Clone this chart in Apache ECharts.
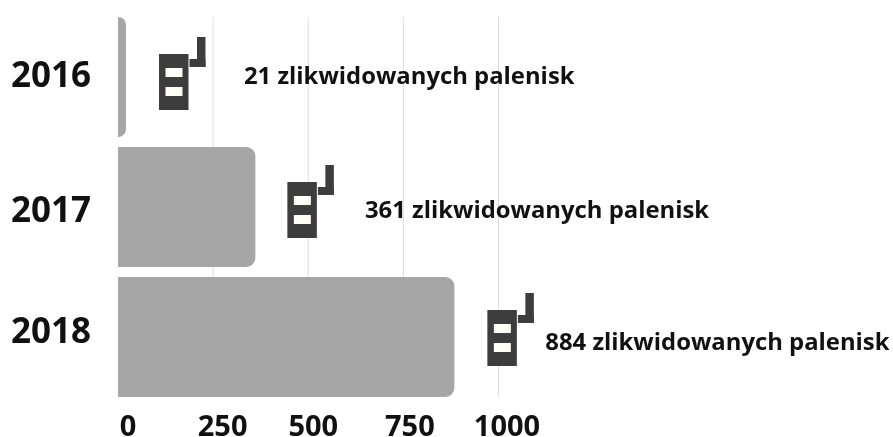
<!DOCTYPE html>
<html><head><meta charset="utf-8">
<style>html,body{margin:0;padding:0;background:#fff}#c{width:893px;height:437px}</style>
<script src="https://cdn.jsdelivr.net/npm/echarts@6/dist/echarts.min.js"></script>
</head><body><div id="c"></div>
<script>
const years = ['2016','2017','2018'];
const removed = [21,361,884];
const labelSuffix = ' zlikwidowanych palenisk';
const ticks = [0,250,500,750,1000];
// label start for each row, in axis units
const labelAnchor = [331,649,1123];

const FONT = '"Open Sans","Noto Sans",sans-serif';
const INK = '#111111', ICON = '#3d3d3d', BAR = '#a6a6a6';
const yearPad = [[0,0,0,0],[10,0,0,0],[0,0,8,0]];   // nudges of year labels
const tickPad = [20,19,10,13,17];                   // left padding of tick labels
const iconShift = [2,0,-2];      // px, vertical nudge of icons
const textShift = [0,4,6];       // px, vertical nudge of row labels

const yearRich = {}, tickRich = {};
const yf = {fontFamily:FONT, fontWeight:700, fontSize:35, color:INK};
const tf = {fontFamily:FONT, fontWeight:700, fontSize:29, color:INK};
yearPad.forEach((p,i)=>{ yearRich['y'+i] = Object.assign({padding:p}, yf); });
tickPad.forEach((p,i)=>{ tickRich['t'+i] = Object.assign({padding:[0,0,0,p]}, tf); });

const chart = echarts.init(document.getElementById('c'), null, {renderer:'canvas'});
chart.setOption({
  animation:false,
  grid:{left:118, width:380.5, top:12, height:390, containLabel:false, outerBoundsMode:'none'},
  xAxis:{type:'value', min:0, max:1000, interval:250,
    axisLine:{show:false}, axisTick:{show:false}, splitLine:{show:false},
    axisLabel:{margin:11, align:'center', hideOverlap:false, showMinLabel:true, showMaxLabel:true,
      formatter:v=>`{t${ticks.indexOf(v)}|${v}}`, rich:tickRich}},
  yAxis:{type:'category', inverse:true, data:years,
    axisLine:{show:false}, axisTick:{show:false}, splitLine:{show:false},
    axisLabel:{margin:27, formatter:(v,i)=>`{y${years.indexOf(v)}|${v}}`, rich:yearRich}},
  series:[
    {type:'custom', z:1, silent:true, clip:false, data:ticks.map(t=>[t]),
      renderItem(p,api){
        const x=api.coord([api.value(0),0])[0];
        if(api.value(0)===0) return {type:'group',children:[]};
        return {type:'line', shape:{x1:x,y1:17,x2:x,y2:397}, style:{stroke:'#dedede',lineWidth:1}};
      }, encode:{x:0}},
    {type:'bar', z:2, barWidth:120, data:removed, silent:true,
      itemStyle:{color:BAR, borderRadius:[0,9,9,0]}},
    {type:'custom', z:3, silent:true, clip:false,
      data:removed.map((v,i)=>[v,i,labelAnchor[i]]),
      encode:{x:0,y:1},
      renderItem(p,api){
        const i=p.dataIndex;
        const c=api.coord([api.value(0),api.value(1)]);
        const ax=c[0]+33-(i===1?1:0), ay=c[1]-25+iconShift[i];
        const r=(x,y,w,h,f)=>({type:'rect',shape:{x:ax+x,y:ay+y,width:w,height:h},style:{fill:f}});
        const tx=api.coord([api.value(2),api.value(1)]);
        return {type:'group',children:[
          r(0,0,29.5,56,ICON),
          r(6.5,14,17,9,'#fffdf5'),
          r(6.5,33,17,9,'#fffdf5'),
          r(38,-17,8.5,30,ICON),
          r(30.5,5,16,8,ICON),
          {type:'text',style:{x:tx[0],y:tx[1]+textShift[i],text:removed[i]+labelSuffix,
            fill:INK,font:'700 23.85px '+FONT,verticalAlign:'middle',align:'left'}}
        ]};
      }}
  ]
});
</script></body></html>
